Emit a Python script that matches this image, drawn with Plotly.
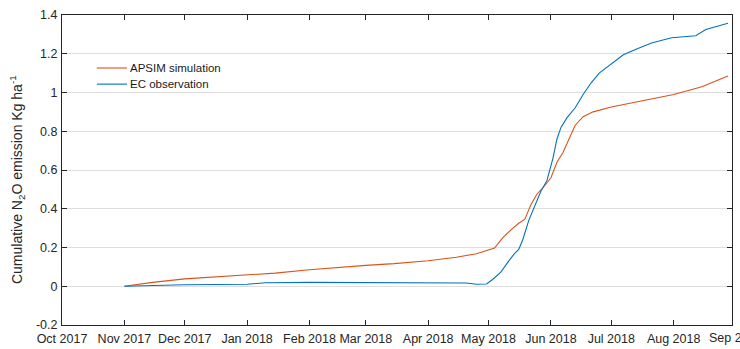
import pandas as pd
import plotly.graph_objects as go

# APSIM simulated cumulative N2O emission (kg N2O ha-1)
apsim_dates = [
    "2017-11-01", "2017-11-15", "2017-12-01", "2017-12-15", "2018-01-01",
    "2018-01-15", "2018-02-01", "2018-02-15", "2018-03-01", "2018-03-15",
    "2018-04-01", "2018-04-15", "2018-04-25", "2018-05-04", "2018-05-08",
    "2018-05-12", "2018-05-16", "2018-05-19", "2018-05-22", "2018-05-25",
    "2018-05-29", "2018-06-01", "2018-06-04", "2018-06-07", "2018-06-10",
    "2018-06-13", "2018-06-17", "2018-06-22", "2018-07-01", "2018-07-15",
    "2018-08-01", "2018-08-15", "2018-08-28",
]
apsim_values = [
    0.000, 0.020, 0.038, 0.048, 0.058,
    0.068, 0.085, 0.098, 0.108, 0.117,
    0.132, 0.150, 0.168, 0.197, 0.250,
    0.290, 0.325, 0.345, 0.420, 0.475,
    0.520, 0.560, 0.640, 0.690, 0.760,
    0.830, 0.875, 0.900, 0.925, 0.955,
    0.990, 1.030, 1.085,
]

# Eddy-covariance observed cumulative N2O emission (kg N2O ha-1)
ec_dates = [
    "2017-11-01", "2017-11-15", "2017-12-01", "2018-01-01", "2018-01-10",
    "2018-02-01", "2018-03-01", "2018-04-01", "2018-04-20", "2018-04-25",
    "2018-04-30", "2018-05-03", "2018-05-07", "2018-05-11", "2018-05-14",
    "2018-05-16", "2018-05-18", "2018-05-21", "2018-05-24", "2018-05-27",
    "2018-05-30", "2018-06-02", "2018-06-04", "2018-06-06", "2018-06-09",
    "2018-06-13", "2018-06-17", "2018-06-21", "2018-06-25", "2018-07-01",
    "2018-07-07", "2018-07-13", "2018-07-21", "2018-07-31", "2018-08-09",
    "2018-08-12", "2018-08-17", "2018-08-22", "2018-08-28",
]
ec_values = [
    0.000, 0.005, 0.008, 0.010, 0.018,
    0.020, 0.018, 0.018, 0.017, 0.010,
    0.012, 0.035, 0.072, 0.130, 0.170,
    0.190, 0.240, 0.340, 0.420, 0.490,
    0.545, 0.660, 0.760, 0.820, 0.870,
    0.920, 0.990, 1.050, 1.100, 1.150,
    1.195, 1.222, 1.256, 1.283, 1.292,
    1.293, 1.325, 1.340, 1.357,
]

series_names = ["APSIM simulation", "EC observation"]

# Month ticks and labels along the time axis
month_ticks = [
    "2017-10-01", "2017-11-01", "2017-12-01", "2018-01-01", "2018-02-01",
    "2018-03-01", "2018-04-01", "2018-05-01", "2018-06-01", "2018-07-01",
    "2018-08-01", "2018-09-01",
]
month_labels = [
    "Oct 2017", "Nov 2017", "Dec 2017", "Jan 2018", "Feb 2018", "Mar 2018",
    "Apr 2018", "May 2018", "Jun 2018", "Jul 2018", "Aug 2018", "Sep 2018",
]

# Y ticks
y_ticks = [-0.2, 0, 0.2, 0.4, 0.6, 0.8, 1.0, 1.2, 1.4]
y_labels = ["-0.2", "0", "0.2", "0.4", "0.6", "0.8", "1", "1.2", "1.4"]

y_title = "Cumulative N<sub>2</sub>O emission Kg ha<sup>-1</sup>"

x_start = pd.Timestamp("2017-10-01")
x_end = pd.Timestamp("2018-08-30")          # right edge of the axes box
last_tick = pd.Timestamp(month_ticks[-1])   # Sep tick lies just past the box
last_tick_frac = (last_tick - x_start) / (x_end - x_start)

FONT = "Liberation Sans, Arial, sans-serif"
INK = "#262626"
ORANGE = "#D95319"
BLUE = "#0072BD"
colors = [ORANGE, BLUE]
TICK_SIZE = 12.5

fig = go.Figure()
for name, xs, ys, c in zip(series_names, [apsim_dates, ec_dates],
                           [apsim_values, ec_values], colors):
    fig.add_trace(go.Scatter(
        x=xs, y=ys, mode="lines", name=name,
        line=dict(color=c, width=1.1), showlegend=False,
    ))

# legend drawn as short line samples with text, MATLAB style (no box)
legend_x0, legend_x1, legend_text_x = 0.052, 0.097, 0.0985
legend_rows = [0.829, 0.777]
for name, c, ly in zip(series_names, colors, legend_rows):
    fig.add_shape(type="line", xref="paper", yref="paper",
                  x0=legend_x0, x1=legend_x1, y0=ly, y1=ly,
                  line=dict(color=c, width=1.1))
    fig.add_annotation(xref="paper", yref="paper", x=legend_text_x, y=ly,
                       xanchor="left", yanchor="middle", showarrow=False,
                       text=name, font=dict(size=11.5, color="#1a1a1a"))

# month label for the tick that falls just beyond the right edge of the box
fig.add_annotation(xref="paper", yref="paper", x=last_tick_frac, y=0,
                   xanchor="center", yanchor="top", yshift=-4,
                   showarrow=False, text=month_labels[-1],
                   font=dict(size=TICK_SIZE, color=INK))

# rotated y-axis title
fig.add_annotation(xref="paper", yref="paper", x=-0.066, y=0.47,
                   xanchor="center", yanchor="middle", textangle=-90,
                   showarrow=False, text=y_title,
                   font=dict(size=14, color=INK))

fig.update_layout(
    width=740, height=349,
    margin=dict(l=62, r=8, t=15, b=24),
    paper_bgcolor="white", plot_bgcolor="white",
    font=dict(family=FONT, size=TICK_SIZE, color=INK),
    showlegend=False,
    xaxis=dict(
        type="date",
        range=[x_start, x_end],
        tickvals=month_ticks[:-1], ticktext=month_labels[:-1],
        tickangle=0, automargin=False, ticklabelstandoff=2,
        ticks="inside", ticklen=5, tickcolor=INK, tickwidth=1,
        showline=True, linecolor=INK, linewidth=1, mirror="ticks",
        showgrid=False, zeroline=False,
        tickfont=dict(size=TICK_SIZE, color=INK),
    ),
    yaxis=dict(
        range=[-0.2, 1.4], automargin=False,
        tickvals=y_ticks, ticktext=y_labels,
        ticks="inside", ticklen=5, tickcolor=INK, tickwidth=1,
        showline=True, linecolor=INK, linewidth=1, mirror="ticks",
        showgrid=True, gridcolor="#dedede", gridwidth=1,
        zeroline=False, ticklabelstandoff=1,
        tickfont=dict(size=TICK_SIZE, color=INK),
    ),
)

fig.write_html("out.html")
